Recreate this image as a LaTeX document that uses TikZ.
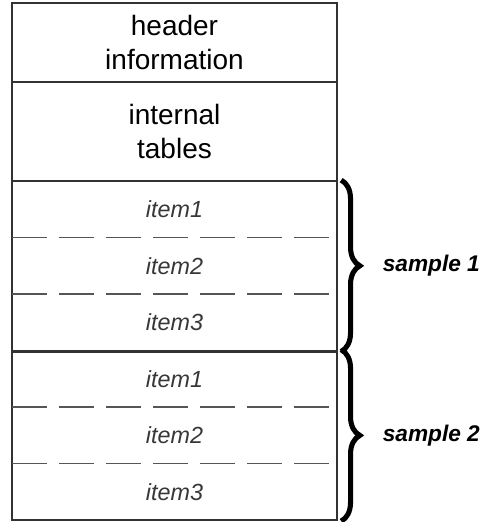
\documentclass[tikz,border=0pt]{standalone}
\usepackage{fontspec}
\setmainfont{Liberation Sans}
\usepackage{tikz}
\usetikzlibrary{positioning,fit,decorations.pathreplacing}
\definecolor{framegray}{RGB}{50,50,50}
\definecolor{itemgray}{RGB}{55,55,55}
\definecolor{dashgray}{RGB}{85,85,85}

\begin{document}
\begin{tikzpicture}[node distance=0pt,
  part/.style={draw=framegray,line width=1.3pt,minimum width=243.75pt,inner sep=0pt,outer sep=0pt,align=center,font=\fontsize{21}{25.5}\selectfont},
  itemrow/.style={minimum width=243.75pt,minimum height=42.4pt,inner sep=0pt,outer sep=0pt,text=itemgray,font=\fontsize{17.5}{20}\selectfont\itshape},
  sepdash/.style={draw=dashgray,line width=1.1pt,dash pattern=on 26.25pt off 9pt},
  samplebrace/.style={decorate,decoration={brace,amplitude=14pt},line width=3.8pt},
  samplelabel/.style={font=\fontsize{17}{20}\selectfont\bfseries\itshape}]
\useasboundingbox (0,0) rectangle (360.75pt,-391.5pt);
\node[part,minimum height=59.25pt,anchor=north west] (header) at (9pt,-2.25pt) {header\\information};
\node[part,minimum height=74.25pt,below=of header] (tables) {internal\\tables};
% first sample
\node[itemrow,below=of tables] (s1a) {item1};
\node[itemrow,below=of s1a] (s1b) {item2};
\node[itemrow,below=of s1b] (s1c) {item3};
% second sample
\node[itemrow,below=of s1c] (s2a) {item1};
\node[itemrow,below=of s2a] (s2b) {item2};
\node[itemrow,below=of s2b] (s2c) {item3};
\node[draw=framegray,line width=1.3pt,fit=(s1a)(s1c),inner sep=0pt] (sample1) {};
\node[draw=framegray,line width=1.3pt,fit=(s2a)(s2c),inner sep=0pt] (sample2) {};
\draw[sepdash] (s1a.south west) -- (s1a.south east);
\draw[sepdash] (s1b.south west) -- (s1b.south east);
\draw[sepdash] (s2a.south west) -- (s2a.south east);
\draw[sepdash] (s2b.south west) -- (s2b.south east);
\draw[framegray,line width=2pt] (tables.south west) -- (tables.south east);
\draw[framegray,line width=2pt] (sample1.south west) -- (sample1.south east);
\draw[samplebrace] ([xshift=2.5pt]sample1.north east) -- ([xshift=2.5pt]sample1.south east)
  node[midway,right=26pt,samplelabel] (label1) {sample 1};
\draw[samplebrace] ([xshift=2.5pt]sample2.north east) -- ([xshift=2.5pt]sample2.south east)
  node[midway,right=26pt,samplelabel] (label2) {sample 2};
\end{tikzpicture}
\end{document}
